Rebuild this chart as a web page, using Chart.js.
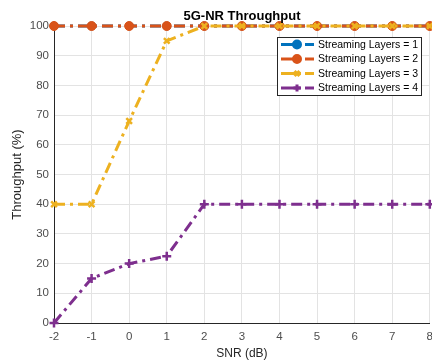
<!DOCTYPE html>
<html><head><meta charset="utf-8">
<script src="https://cdn.jsdelivr.net/npm/chart.js@4"></script>
<style>html,body{margin:0;padding:0;background:#fff;overflow:hidden;}#wrap{width:432px;height:361px;overflow:hidden;}</style>
</head><body><div id="wrap"><canvas id="c" width="440" height="361"></canvas></div>
<script>
const snr = [-2, -1, 0, 1, 2, 3, 4, 5, 6, 7, 8];
const layers1 = [100, 100, 100, 100, 100, 100, 100, 100, 100, 100, 100];
const layers2 = [100, 100, 100, 100, 100, 100, 100, 100, 100, 100, 100];
const layers3 = [40, 40, 68, 95, 100, 100, 100, 100, 100, 100, 100];
const layers4 = [0, 15, 20, 22.5, 40, 40, 40, 40, 40, 40, 40];
const seriesNames = ['Streaming Layers = 1', 'Streaming Layers = 2', 'Streaming Layers = 3', 'Streaming Layers = 4'];
const colors = ['#0072BD', '#D95319', '#EDB120', '#7E2F8E'];
const styles = ['circle', 'circle', 'crossRot', 'cross'];
const radii = [4, 4.5, 4, 4.5];
const borderWidths = [1, 1, 2.5, 2.5];
const xTicks = snr;
const yTicks = [0, 10, 20, 30, 40, 50, 60, 70, 80, 90, 100];
const titleText = '5G-NR Throughput';
const xTitle = 'SNR (dB)';
const yTitle = 'Throughput (%)';

const allSeries = [layers1, layers2, layers3, layers4];
const FONT = '"Liberation Sans", Arial, sans-serif';
const DASH = [11, 5, 3, 5];

const datasets = allSeries.map((vals, i) => ({
  label: seriesNames[i],
  data: vals.map((v, j) => ({x: snr[j], y: v})),
  borderColor: colors[i],
  backgroundColor: colors[i],
  pointBackgroundColor: colors[i],
  pointBorderColor: colors[i],
  borderWidth: 3,
  borderDash: DASH,
  pointStyle: styles[i],
  pointRadius: radii[i],
  pointBorderWidth: borderWidths[i],
  fill: false,
  tension: 0,
  clip: 6,
  order: 4 - i
}));

const overlay = {
  id: 'overlay',
  afterDraw(chart) {
    const ctx = chart.ctx;
    ctx.save();
    // title
    ctx.fillStyle = '#000';
    ctx.font = 'bold 13px ' + FONT;
    ctx.textAlign = 'center';
    ctx.textBaseline = 'alphabetic';
    ctx.fillText(titleText, 242, 20);
    // legend
    const lx = 277, ly = 37, lw = 144, lh = 58;
    ctx.fillStyle = '#fff';
    ctx.fillRect(lx, ly, lw, lh);
    ctx.strokeStyle = '#262626';
    ctx.lineWidth = 1;
    ctx.strokeRect(lx + 0.5, ly + 0.5, lw, lh);
    ctx.font = '10.5px ' + FONT;
    ctx.textAlign = 'left';
    ctx.textBaseline = 'middle';
    for (let i = 0; i < 4; i++) {
      const yy = ly + 7.5 + i * 14.5;
      ctx.strokeStyle = colors[i];
      ctx.fillStyle = colors[i];
      ctx.lineWidth = 3;
      ctx.setLineDash([]);
      ctx.beginPath(); ctx.moveTo(lx + 4, yy); ctx.lineTo(lx + 24, yy); ctx.stroke();
      ctx.beginPath(); ctx.moveTo(lx + 28, yy); ctx.lineTo(lx + 37, yy); ctx.stroke();
      Chart.helpers.drawPoint(ctx, {pointStyle: styles[i], radius: 3.5, rotation: 0, borderWidth: borderWidths[i]}, lx + 20, yy);
      ctx.fillStyle = '#000';
      ctx.fillText(seriesNames[i], lx + 41, yy + 0.5);
    }
    ctx.restore();
  }
};

new Chart(document.getElementById('c'), {
  type: 'line',
  data: { datasets },
  options: {
    responsive: false,
    animation: false,
    devicePixelRatio: 1,
    layout: { padding: { top: 26, right: 7, left: 0, bottom: 0 } },
    plugins: { legend: { display: false }, title: { display: false }, tooltip: { enabled: false } },
    scales: {
      x: {
        type: 'linear', min: -2, max: 8,
        afterBuildTicks(s) { s.ticks = xTicks.map(v => ({value: v})); },
        afterFit(s) { s.height = 38; },
        grid: { color: '#e3e3e3', drawTicks: false, lineWidth: 1 },
        border: { color: '#262626', width: 1 },
        ticks: { color: '#4d4d4d', font: { family: FONT, size: 11.5 }, padding: 7, maxRotation: 0, autoSkip: false },
        title: { display: true, text: xTitle, color: '#262626', font: { family: FONT, size: 12 }, padding: { top: 0, bottom: 0 } }
      },
      y: {
        min: 0, max: 100,
        afterBuildTicks(s) { s.ticks = yTicks.map(v => ({value: v})); },
        afterFit(s) { s.width = 54; },
        grid: { color: '#e3e3e3', drawTicks: false, lineWidth: 1 },
        border: { color: '#262626', width: 1 },
        ticks: { color: '#4d4d4d', font: { family: FONT, size: 11.5 }, padding: 5 },
        title: { display: true, text: yTitle, color: '#262626', font: { family: FONT, size: 13 }, padding: { top: 10, bottom: 0 } }
      }
    }
  },
  plugins: [overlay]
});
</script></body></html>
